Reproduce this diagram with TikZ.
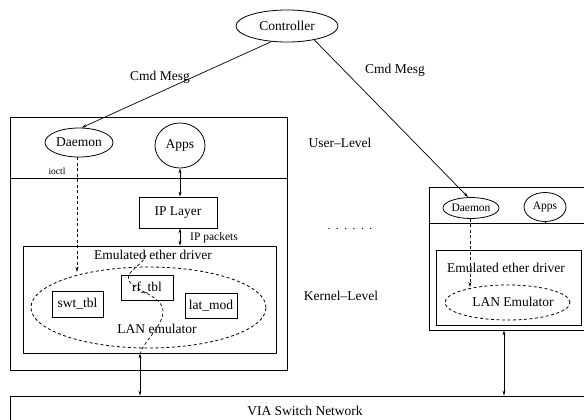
\documentclass[tikz,border=0pt]{standalone}
\usepackage{fontspec}
\setmainfont{Liberation Serif}
\usetikzlibrary{shapes.geometric,arrows.meta,calc}
\begin{document}
\begin{tikzpicture}[x=1pt,y=-1pt,
  every node/.style={font=\fontsize{13.5}{16}\selectfont, inner sep=0pt},
  box/.style={draw, line width=0.8pt, rectangle},
  ell/.style={draw, line width=0.8pt, ellipse},
  dell/.style={draw, line width=0.8pt, ellipse, dash pattern=on 3pt off 2.5pt},
  conn/.style={line width=0.7pt},
  dline/.style={dash pattern=on 3pt off 2.5pt},
  arr/.style={conn,-{Stealth[length=5pt,width=3pt]}},
  darr/.style={conn,{Stealth[length=5pt,width=3pt]}-{Stealth[length=5pt,width=3pt]}},
  smalltxt/.style={font=\fontsize{11.5}{14}\selectfont},
  tinytxt/.style={font=\fontsize{9.5}{11}\selectfont}]
\useasboundingbox (0,0) rectangle (584,420);

% controller
\node[ell, minimum width=102pt, minimum height=32pt] (ctrl) at (287,26) {Controller};

% left host
\node[box, minimum width=277pt, minimum height=253pt] (outerL) at (148.5,243.5) {};
\coordinate (sl) at (0,178);
\draw[line width=0.8pt] (outerL.west |- sl) -- (outerL.east |- sl);
\node[ell, minimum width=68pt, minimum height=29pt] (dL) at (79,142.5) {Daemon};
\node[ell, minimum width=50pt, minimum height=45pt] (appsL) at (180,145.5) {Apps};
\node[box, minimum width=78pt, minimum height=31pt] (ip) at (178,212.5) {IP Layer};
\node[tinytxt] (ioctl) at (57,171) {ioctl};
\node[box, minimum width=253pt, minimum height=107pt] (emL) at (149.5,299.5) {};
\node (emLtxt) at (153,255) {Emulated ether driver};
\node[dell, minimum width=235pt, minimum height=81pt] (lanL) at (148.5,307.5) {};
\node (lanLtxt) at (157,329) {LAN emulator};
\node[box, minimum width=52pt, minimum height=25pt] (rf) at (147,287.5) {rf\_tbl};
\node[box, minimum width=51pt, minimum height=26pt] (swt) at (77.5,304) {swt\_tbl};
\node[box, minimum width=52pt, minimum height=25pt] (lat) at (211,305.5) {lat\_mod};
\node[smalltxt, anchor=west] (ippk) at (190,238) {IP packets};

% right host
\node[box, minimum width=161pt, minimum height=143pt] (outerR) at (509.5,258.5) {};
\coordinate (sr) at (0,223);
\draw[line width=0.8pt] (outerR.west |- sr) -- (outerR.east |- sr);
\node[ell, smalltxt, minimum width=56pt, minimum height=21pt] (dR) at (471,208) {Daemon};
\node[ell, smalltxt, minimum width=42pt, minimum height=29pt] (appsR) at (545,207) {Apps};
\draw[conn] (appsR.south) -- (appsR.south |- sr);
\node[box, minimum width=145pt, minimum height=75pt] (emR) at (508.5,287.5) {};
\node (emRtxt) at (506,268) {Emulated ether driver};
\node[dell, minimum width=125pt, minimum height=35pt] (lanR) at (507.5,302.5) {};
\node (lanRtxt) at (513,302) {LAN Emulator};

% network
\node[box, minimum width=590pt, minimum height=30pt] (net) at (305,411) {VIA Switch Network};

% labels
\node (cmd1) at (160,77) {Cmd Mesg};
\node (cmd2) at (395,70) {Cmd Mesg};
\node (ulvl) at (340,143) {User\textendash Level};
\node (klvl) at (341,296) {Kernel\textendash Level};
\node[smalltxt] (dots) at (350,229) {.\hspace{5.5pt}.\hspace{5.5pt}.\hspace{5.5pt}.\hspace{5.5pt}.\hspace{5.5pt}.};

% connectors
\draw[arr] (ctrl.225) -- (dL.80);
\draw[arr] (ctrl.333) -- (dR.105);
\coordinate (a0) at (180,0);
\draw[darr] (appsL.south -| a0) -- (ip.north -| a0);
\draw[darr] (ip.south -| a0) -- (emL.north -| a0);
\coordinate (a2) at (77,0);
\coordinate (dLtip) at (77,272);
\draw[arr, dline] (dL.south -| a2) -- (dLtip);
\coordinate (dRtip) at (470,287);
\draw[arr, dline] (dR.south -| dRtip) -- (dRtip);
\coordinate (a1) at (140,0);
\coordinate (cvs) at (146,255);
\draw[conn, dline] (cvs) .. controls (143,266) and (125,270) .. (129,281)
  .. controls (133,290) and (163,296) .. (163,311)
  .. controls (163,326) and (145,340) .. (emL.south -| a1);
\draw[darr] (emL.south -| a1) -- (net.north -| a1);
\coordinate (a4) at (504,0);
\draw[darr] (outerR.south -| a4) -- (net.north -| a4);
\end{tikzpicture}
\end{document}
